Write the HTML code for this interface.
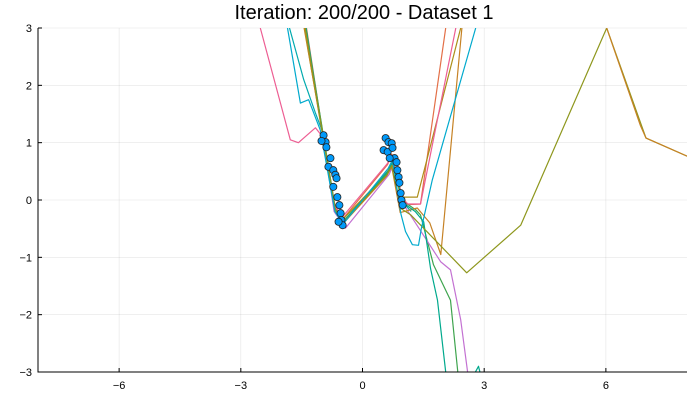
<!DOCTYPE html>
<html><head><meta charset="utf-8"><style>
body{margin:0;background:#fff}
svg text{font-family:"Liberation Sans",sans-serif}
</style></head><body>
<svg id="c" width="700" height="400" xmlns="http://www.w3.org/2000/svg">
<rect width="700" height="400" fill="#fff"/>
<text x="364" y="19" text-anchor="middle" font-size="20" fill="#000">Iteration: 200/200 - Dataset 1</text>
<defs><clipPath id="pc"><rect x="38" y="28" width="649" height="344"/></clipPath></defs>
<g id="grid"></g>
<g id="series" clip-path="url(#pc)"></g>
<g id="pts"></g>
<g id="axes"></g>
</svg>
<script>
const xTicks=[-6,-3,0,3,6];
const yTicks=[-3,-2,-1,0,1,2,3];
const xTickLabels=["−6","−3","0","3","6"];
const yTickLabels=["−3","−2","−1","0","1","2","3"];
const scatterX=[-0.96,-0.91,-1.01,-0.89,-0.79,-0.84,-0.72,-0.67,-0.64,-0.72,-0.62,-0.57,-0.54,-0.52,-0.49,-0.59,0.57,0.64,0.72,0.52,0.62,0.74,0.79,0.84,0.86,0.89,0.91,0.94,0.96,0.99,0.67];
const scatterY=[1.13,1.01,1.03,0.92,0.73,0.58,0.52,0.44,0.38,0.23,0.05,-0.09,-0.23,-0.35,-0.44,-0.38,1.08,1.01,0.99,0.87,0.84,0.91,0.73,0.66,0.52,0.40,0.30,0.12,0.0,-0.09,0.73];
const seriesNames=["orange","green","purple","gold","teal","pink","brown","teal2","olive","cyan","brown-tail"];
const seriesColors=["#E36F47","#3EA44E","#C371D2","#AC8E18","#00AAAE","#ED5E93","#C68225","#00A98D","#8E971D","#00A9CD","#C68225"];
const seriesX=[
[-1.38,-0.99,-0.68,-0.48,0.62,0.72,0.98,1.12,1.43,2.05],
[-1.40,-0.98,-0.66,-0.45,0.64,0.74,1.0,1.31,1.43,1.75,2.17,2.35],
[-1.42,-1.0,-0.7,-0.42,0.66,0.76,1.03,1.93,2.17,2.42,2.59],
[-1.44,-0.99,-0.67,-0.46,0.62,0.74,0.95,1.23,1.35,2.42],
[-1.80,-1.45,-1.16,-0.99,-0.67,-0.47,0.64,0.75,1.0,1.2],
[-2.52,-1.78,-1.58,-1.16,-0.98,-0.68,-0.5,0.62,0.72,0.98,1.12,1.43,2.3],
[-1.43,-1.0,-0.66,-0.46,0.6,0.72,0.93,1.35,1.66,1.93,2.45],
[-1.39,-0.99,-0.67,-0.47,0.64,0.75,1.0,1.3,1.51,1.68,1.85,2.05,2.4,2.86,3.0],
[-1.41,-0.99,-0.67,-0.46,0.6,0.72,0.95,1.19,2.57,3.9,6.02,6.99,8.05],
[-1.85,-1.53,-1.33,-1.04,-0.68,-0.48,0.63,0.74,0.95,1.06,1.23,1.38,1.45,1.72,2.79],
[6.02,6.85,6.99,8.05]
];
const seriesY=[
[3,1.22,-0.15,-0.33,0.62,0.8,0.05,-0.08,-0.07,3],
[3,1.2,-0.18,-0.36,0.52,0.7,-0.02,-0.17,-0.26,-1.13,-1.75,-3],
[3,1.22,-0.2,-0.49,0.45,0.62,-0.1,-1.08,-1.22,-2.09,-3],
[3,1.2,-0.15,-0.32,0.48,0.62,0.05,0.05,0.05,3],
[3,2.1,1.52,1.2,-0.18,-0.39,0.5,0.66,-0.05,-0.2],
[3,1.05,1.0,1.26,1.1,-0.1,-0.3,0.64,0.78,0.02,-0.07,-0.07,3],
[3,1.2,-0.2,-0.4,0.42,0.58,-0.22,-0.14,-0.4,-0.95,3],
[3,1.2,-0.17,-0.37,0.5,0.66,-0.05,-0.2,-0.38,-1.2,-1.75,-3,-3.5,-2.9,-3.3],
[3,1.2,-0.18,-0.38,0.44,0.6,-0.15,-0.26,-1.27,-0.44,3.0,1.08,0.75],
[3,1.69,1.75,1.22,-0.2,-0.42,0.55,0.7,-0.25,-0.55,-0.78,-0.79,-0.5,0.35,3],
[3.0,1.3,1.08,0.75]
];
const X0=38,X1=687,Y0=372,Y1=28,XMIN=-8,XMAX=8,YMIN=-3,YMAX=3;
function sx(v){return X0+(v-XMIN)/(XMAX-XMIN)*(X1-X0);}
function sy(v){return Y0-(v-YMIN)/(YMAX-YMIN)*(Y0-Y1);}
const NS="http://www.w3.org/2000/svg";
function mk(t,a,p){const e=document.createElementNS(NS,t);for(const k in a)e.setAttribute(k,a[k]);p.appendChild(e);return e;}
const grid=document.getElementById('grid'),axes=document.getElementById('axes');
xTicks.forEach((t,i)=>{
 const g=mk('line',{x1:sx(t),x2:sx(t),y1:Y1,y2:Y0,stroke:'#000','stroke-opacity':0.1,'stroke-width':0.6},grid);
 
 
 const tk=mk('line',{x1:sx(t),x2:sx(t),y1:Y0,y2:Y0-4,stroke:'#000','stroke-width':1},axes);
 
 
 const tx=mk('text',{x:sx(t),y:Y0+17,'text-anchor':'middle','font-size':11,fill:'#000'},axes);
 tx.textContent=xTickLabels[i];
 
 
});
yTicks.forEach((t,i)=>{
 const g=mk('line',{x1:X0,x2:X1,y1:sy(t),y2:sy(t),stroke:'#000','stroke-opacity':0.1,'stroke-width':0.6},grid);
 
 
 const tk=mk('line',{x1:X0,x2:X0+4,y1:sy(t),y2:sy(t),stroke:'#000','stroke-width':1},axes);
 
 
 const tx=mk('text',{x:X0-6,y:sy(t)+4,'text-anchor':'end','font-size':11,fill:'#000'},axes);
 tx.textContent=yTickLabels[i];
 
 
});
const ax=mk('path',{d:`M${X0},${Y1}V${Y0}H${X1}`,fill:'none',stroke:'#000','stroke-width':1},axes);


const sg=document.getElementById('series');
seriesX.forEach((xs,i)=>{
 const d=xs.map((x,j)=>(j?'L':'M')+sx(x).toFixed(1)+','+sy(seriesY[i][j]).toFixed(1)).join('');
 const p=mk('path',{d:d,fill:'none',stroke:seriesColors[i],'stroke-width':1.2,'stroke-linejoin':'round'},sg);
 
 
});
const pg=document.getElementById('pts');
scatterX.forEach((x,i)=>{
 const c=mk('circle',{cx:sx(x),cy:sy(scatterY[i]),r:3.6,fill:'#009AFA',stroke:'#222','stroke-width':0.8},pg);
 
 
});
</script>
</body></html>
